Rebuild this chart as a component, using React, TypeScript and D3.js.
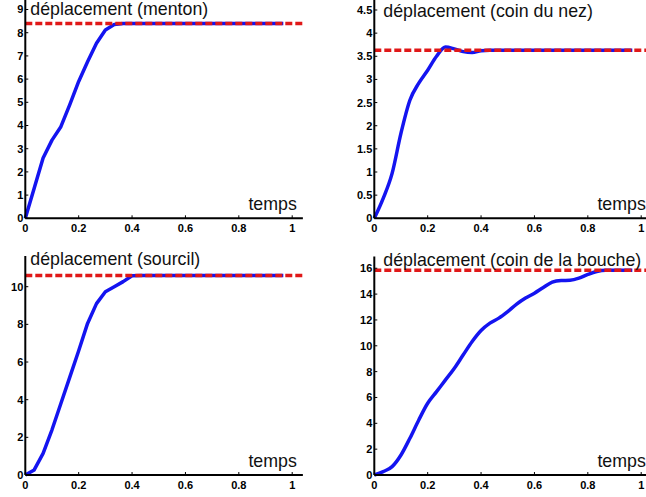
import React from "react";
import * as d3 from "d3";

// time samples (s, normalised)
const TIME = [
  0, 0.0333, 0.0667, 0.1, 0.1333, 0.1667, 0.2, 0.2333, 0.2667, 0.3,
  0.3333, 0.3667, 0.4, 0.4333, 0.4667, 0.5, 0.5333, 0.5667, 0.6, 0.6333,
  0.6667, 0.7, 0.7333, 0.7667, 0.8, 0.8333, 0.8667, 0.9, 0.9333, 0.9667,
];

const MENTON = [
  0, 1.3, 2.6, 3.37, 3.95, 4.9, 5.9, 6.75, 7.55, 8.12, 8.35,
  8.4, 8.4, 8.4, 8.4, 8.4, 8.4, 8.4, 8.4, 8.4, 8.4, 8.4, 8.4, 8.4, 8.4, 8.4, 8.4, 8.4, 8.4, 8.4,
];
const NEZ = [
  0, 0.43, 0.97, 1.84, 2.55, 2.92, 3.2, 3.5, 3.7, 3.66, 3.6, 3.58, 3.62,
  3.63, 3.63, 3.63, 3.63, 3.63, 3.63, 3.63, 3.63, 3.63, 3.63, 3.63, 3.63, 3.63, 3.63, 3.63, 3.63, 3.63,
];
const SOURCIL = [
  0, 0.27, 1.15, 2.4, 3.8, 5.2, 6.6, 8.05, 9.1, 9.73, 10.0, 10.27, 10.58,
  10.6, 10.6, 10.6, 10.6, 10.6, 10.6, 10.6, 10.6, 10.6, 10.6, 10.6, 10.6, 10.6, 10.6, 10.6, 10.6, 10.6,
];
const BOUCHE = [
  0, 0.26, 0.65, 1.55, 2.84, 4.26, 5.55, 6.45, 7.36, 8.26, 9.3, 10.33, 11.18, 11.75, 12.14,
  12.65, 13.22, 13.69, 14.07, 14.51, 14.92, 15.05, 15.07, 15.23, 15.52, 15.75, 15.85, 15.85, 15.85, 15.85,
];

const TARGETS = [8.4, 3.63, 10.6, 15.85];
const TITLES = [
  "déplacement (menton)",
  "déplacement (coin du nez)",
  "déplacement (sourcil)",
  "déplacement (coin de la bouche)",
];
const X_TICKS = [0, 0.2, 0.4, 0.6, 0.8, 1];
const Y_TICKS = [
  [0, 1, 2, 3, 4, 5, 6, 7, 8, 9],
  [0, 0.5, 1, 1.5, 2, 2.5, 3, 3.5, 4, 4.5],
  [0, 2, 4, 6, 8, 10],
  [0, 2, 4, 6, 8, 10, 12, 14, 16],
];
const Y_MAX = [9.41, 4.716, 11.63, 16.91];
const X_LABEL = "temps";
const SERIES = [MENTON, NEZ, SOURCIL, BOUCHE];

// layout
const LAYOUT = [
  { x0: 25.3, y0: 218.3, top: 0, titleDx: 5, titleY: 15, curve: d3.curveLinear },
  { x0: 374.3, y0: 218.3, top: 0, titleDx: 9, titleY: 16.5, curve: d3.curveMonotoneX },
  { x0: 25.3, y0: 475, top: 256, titleDx: 5, titleY: 265, curve: d3.curveLinear },
  { x0: 374.3, y0: 475, top: 256.5, titleDx: 9, titleY: 266, curve: d3.curveMonotoneX },
];
const UNIT_W = 266.9;
const X_MAX = 1.04;

const FONT = "'Liberation Sans', Arial, Helvetica, sans-serif";
const BLUE = "#1414f0";
const RED = "#e01818";

function Panel({ i }: { i: number }) {
  const L = LAYOUT[i];
  const x = d3.scaleLinear().domain([0, X_MAX]).range([L.x0, L.x0 + UNIT_W * X_MAX]);
  const y = d3.scaleLinear().domain([0, Y_MAX[i]]).range([L.y0, L.top]);
  const data = TIME.map((t, k) => [t, SERIES[i][k]] as [number, number]);
  const line = d3
    .line<[number, number]>()
    .x((d) => x(d[0]))
    .y((d) => y(d[1]))
    .curve(L.curve);
  const yt = TARGETS[i];
  return (
    <g>
      <path d={line(data) || ""} fill="none" stroke={BLUE} strokeWidth={3.5} strokeLinejoin="round" />
      <line
        x1={x(0)}
        x2={x(X_MAX)}
        y1={y(yt)}
        y2={y(yt)}
        stroke={RED}
        strokeWidth={3.5}
        strokeDasharray="7,3"
      />
      {/* axes */}
      <line x1={x(0)} x2={x(X_MAX)} y1={L.y0} y2={L.y0} stroke="#000" strokeWidth={2} />
      <line x1={L.x0} x2={L.x0} y1={L.y0} y2={L.top} stroke="#000" strokeWidth={2} />
      {X_TICKS.map((t) => (
        <g key={"x" + t}>
          <line x1={x(t)} x2={x(t)} y1={L.y0} y2={L.y0 - 3} stroke="#000" strokeWidth={1} />
          <text
            x={x(t)}
            y={L.y0 + 14}
            textAnchor="middle"
            fontFamily={FONT}
            fontWeight="bold"
            fontSize={11}
            fill="#000"
          >
            {String(t)}
          </text>
        </g>
      ))}
      {Y_TICKS[i].map((v) => (
        <g key={"y" + v}>
          <line x1={L.x0} x2={L.x0 + 3} y1={y(v)} y2={y(v)} stroke="#000" strokeWidth={1} />
          <text
            x={L.x0 - 2}
            y={y(v)}
            dy="0.36em"
            textAnchor="end"
            fontFamily={FONT}
            fontWeight="bold"
            fontSize={11}
            fill="#000"
          >
            {String(v)}
          </text>
        </g>
      ))}
      <text x={L.x0 + L.titleDx} y={L.titleY} fontFamily={FONT} fontSize={17.8} fill="#111">
        {TITLES[i]}
      </text>
      <text x={L.x0 + 271.5} y={L.y0 - 8} textAnchor="end" fontFamily={FONT} fontSize={17.8} fill="#111">
        {X_LABEL}
      </text>
    </g>
  );
}

export default function App() {
  return (
    <svg
      width={646}
      height={497}
      style={{ position: "absolute", left: 0, top: 0, background: "#fff" }}
    >
      <rect width={646} height={497} fill="#fff" />
      {[0, 1, 2, 3].map((i) => (
        <Panel key={i} i={i} />
      ))}
    </svg>
  );
}
